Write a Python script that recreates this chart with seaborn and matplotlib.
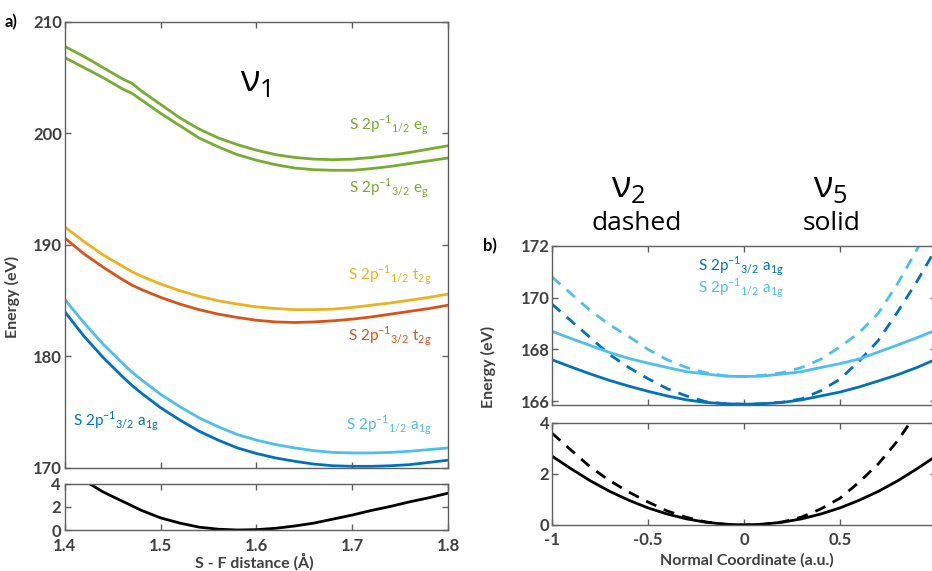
import numpy as np
import pandas as pd
import seaborn as sns
import matplotlib.pyplot as plt

# %%
# panel a: S-F distance scan (nu1)
dist = [1.40, 1.42, 1.44, 1.46, 1.47, 1.48, 1.50, 1.52, 1.54, 1.56, 1.58,
        1.60, 1.62, 1.64, 1.66, 1.68, 1.70, 1.72, 1.74, 1.76, 1.78, 1.80]
eg_12 = [207.8, 206.9, 205.9, 204.9, 204.5, 203.8, 202.6, 201.4, 200.4, 199.6, 199.0,
         198.5, 198.1, 197.85, 197.7, 197.65, 197.7, 197.85, 198.05, 198.3, 198.6, 198.9]
eg_32 = [206.8, 205.9, 205.0, 204.0, 203.6, 203.0, 201.8, 200.7, 199.6, 198.8, 198.1,
         197.6, 197.2, 196.9, 196.75, 196.7, 196.7, 196.85, 197.05, 197.3, 197.55, 197.8]
t2g_12 = [191.6, 190.3, 189.1, 188.1, 187.6, 187.2, 186.5, 185.9, 185.4, 185.0, 184.7,
          184.45, 184.3, 184.2, 184.2, 184.25, 184.4, 184.6, 184.8, 185.05, 185.3, 185.6]
t2g_32 = [190.6, 189.2, 188.0, 186.9, 186.4, 186.0, 185.3, 184.7, 184.2, 183.8, 183.5,
          183.25, 183.1, 183.05, 183.1, 183.2, 183.35, 183.55, 183.8, 184.05, 184.3, 184.6]
a1g_12 = [185.1, 183.0, 181.1, 179.4, 178.6, 177.9, 176.6, 175.5, 174.5, 173.7, 173.0,
          172.5, 172.1, 171.8, 171.55, 171.4, 171.35, 171.35, 171.4, 171.5, 171.65, 171.8]
a1g_32 = [184.0, 181.8, 179.9, 178.2, 177.4, 176.7, 175.4, 174.3, 173.3, 172.5, 171.8,
          171.3, 170.9, 170.6, 170.35, 170.2, 170.15, 170.15, 170.2, 170.3, 170.5, 170.7]
ground_a = [5.6, 4.3, 3.3, 2.5, 2.1, 1.7, 1.05, 0.6, 0.25, 0.07, 0.0,
            0.03, 0.15, 0.35, 0.6, 0.95, 1.3, 1.7, 2.05, 2.45, 2.8, 3.2]

# panel b: normal coordinate scans (nu2 dashed, nu5 solid)
coord = [-1.0, -0.9, -0.8, -0.7, -0.6, -0.5, -0.4, -0.3, -0.2, -0.1, 0.0,
         0.1, 0.2, 0.3, 0.4, 0.5, 0.6, 0.7, 0.8, 0.9, 1.0]
nu5_12 = [168.7, 168.42, 168.15, 167.88, 167.65, 167.47, 167.3, 167.14, 167.05, 166.97, 166.95,
          166.97, 167.05, 167.14, 167.3, 167.45, 167.63, 167.9, 168.17, 168.45, 168.75]
nu5_32 = [167.6, 167.32, 167.05, 166.8, 166.58, 166.38, 166.2, 166.05, 165.95, 165.9, 165.88,
          165.9, 165.95, 166.05, 166.2, 166.35, 166.55, 166.78, 167.02, 167.3, 167.62]
nu2_12 = [170.8, 170.15, 169.5, 168.95, 168.5, 168.0, 167.6, 167.3, 167.1, 166.98, 166.95,
          167.0, 167.1, 167.3, 167.62, 168.1, 168.65, 169.4, 170.55, 171.85, 173.4]
nu2_32 = [169.75, 169.1, 168.45, 167.8, 167.3, 166.87, 166.48, 166.2, 165.98, 165.9, 165.88,
          165.9, 165.96, 166.09, 166.4, 166.85, 167.55, 168.35, 169.45, 170.62, 171.9]
nu5_gs = [2.7, 2.2, 1.73, 1.32, 0.97, 0.67, 0.43, 0.24, 0.11, 0.03, 0.0,
          0.03, 0.11, 0.24, 0.43, 0.67, 0.97, 1.32, 1.73, 2.2, 2.7]
nu2_gs = [3.6, 2.93, 2.27, 1.74, 1.29, 0.9, 0.55, 0.3, 0.12, 0.03, 0.0,
          0.03, 0.12, 0.31, 0.63, 1.05, 1.68, 2.4, 3.3, 4.4, 5.7]

GREEN = "#77AC30"
YELLOW = "#EDB120"
ORANGE = "#D95319"
LBLUE = "#4DBEEE"
DBLUE = "#0072BD"
GREY = "#404040"

# %%
sns.set_style("ticks")
plt.rcParams["font.family"] = ["Lato", "DejaVu Sans"]
plt.rcParams["axes.unicode_minus"] = False
plt.rcParams["xtick.direction"] = "in"
plt.rcParams["ytick.direction"] = "in"
plt.rcParams["xtick.top"] = True
plt.rcParams["ytick.right"] = True

fig = plt.figure(figsize=(9.32, 5.71), dpi=100)
ax1 = fig.add_axes([0.0697, 0.1804, 0.411, 0.7811])
ax2 = fig.add_axes([0.0697, 0.0718, 0.411, 0.0806])
ax3 = fig.add_axes([0.5923, 0.2907, 0.412, 0.2785])
ax4 = fig.add_axes([0.5923, 0.0806, 0.412, 0.1786])

df_a = pd.DataFrame({"x": dist, "eg12": eg_12, "eg32": eg_32, "t12": t2g_12,
                     "t32": t2g_32, "a12": a1g_12, "a32": a1g_32, "gs": ground_a})
lw = 2.0
for col, c in [("eg12", GREEN), ("eg32", GREEN), ("t12", YELLOW), ("t32", ORANGE),
               ("a12", LBLUE), ("a32", DBLUE)]:
    sns.lineplot(data=df_a, x="x", y=col, color=c, lw=lw, ax=ax1)
sns.lineplot(data=df_a, x="x", y="gs", color="black", lw=lw, ax=ax2)

df_b = pd.DataFrame({"q": coord, "n5_12": nu5_12, "n5_32": nu5_32, "n2_12": nu2_12,
                     "n2_32": nu2_32, "n5g": nu5_gs, "n2g": nu2_gs})
sns.lineplot(data=df_b, x="q", y="n2_12", color=LBLUE, lw=lw, ax=ax3, linestyle=(0, (4, 3)))
sns.lineplot(data=df_b, x="q", y="n2_32", color=DBLUE, lw=lw, ax=ax3, linestyle=(0, (4, 3)))
sns.lineplot(data=df_b, x="q", y="n5_12", color=LBLUE, lw=lw, ax=ax3)
sns.lineplot(data=df_b, x="q", y="n5_32", color=DBLUE, lw=lw, ax=ax3)
sns.lineplot(data=df_b, x="q", y="n2g", color="black", lw=lw, ax=ax4, linestyle=(0, (4, 3)))
sns.lineplot(data=df_b, x="q", y="n5g", color="black", lw=lw, ax=ax4)

# axes cosmetics
for ax in [ax1, ax2, ax3, ax4]:
    ax.set_xlabel("")
    ax.set_ylabel("")
    for s in ax.spines.values():
        s.set_color("#606060")
        s.set_linewidth(1.0)
    ax.tick_params(length=4, width=1, color="#606060", labelsize=12,
                   labelcolor=GREY, pad=2)

ax1.set_xlim(1.4, 1.8)
ax1.set_ylim(170, 210)
ax1.set_yticks([170, 180, 190, 200, 210])
ax1.set_xticks([1.4, 1.5, 1.6, 1.7, 1.8])
ax1.tick_params(labelbottom=False)
ax2.set_xlim(1.4, 1.8)
ax2.set_ylim(0, 4)
ax2.set_yticks([0, 2, 4])
ax2.set_xticks([1.4, 1.5, 1.6, 1.7, 1.8])
ax2.set_xticklabels(["1.4", "1.5", "1.6", "1.7", "1.8"])
ax2.tick_params(axis="x", pad=6)
ax2.tick_params(axis="y", pad=3)

ax3.set_xlim(-1, 1)
ax3.set_ylim(165.85, 172)
ax3.set_yticks([166, 168, 170, 172])
ax3.set_xticks([-1, -0.5, 0, 0.5, 1])
ax3.tick_params(labelbottom=False)
ax4.set_xlim(-1, 1)
ax4.set_ylim(0, 4)
ax4.set_yticks([0, 2, 4])
ax4.set_xticks([-1, -0.5, 0, 0.5, 1])
ax4.set_xticklabels(["-1", "-0.5", "0", "0.5", ""])
ax4.tick_params(axis="x", pad=5)

for ax in [ax1, ax2, ax3, ax4]:
    for lab in ax.get_xticklabels() + ax.get_yticklabels():
        lab.set_fontweight("bold")

# state labels
def lbl(j, sym, sub):
    return r"S 2p$^{\mathregular{-1}}$$_{\mathregular{%s}}$ %s$_{\mathregular{%s}}$" % (j, sym, sub)

fs = 11
ax1.text(1.78, 200.7, lbl("1/2", "e", "g"), color=GREEN, fontsize=fs, ha="right", va="center")
ax1.text(1.78, 195.1, lbl("3/2", "e", "g"), color=GREEN, fontsize=fs, ha="right", va="center")
ax1.text(1.783, 187.3, lbl("1/2", "t", "2g"), color=YELLOW, fontsize=fs, ha="right", va="center")
ax1.text(1.783, 181.8, lbl("3/2", "t", "2g"), color=ORANGE, fontsize=fs, ha="right", va="center")
ax1.text(1.408, 174.2, lbl("3/2", "a", "1g"), color=DBLUE, fontsize=fs, ha="left", va="center")
ax1.text(1.783, 173.8, lbl("1/2", "a", "1g"), color=LBLUE, fontsize=fs, ha="right", va="center")
ax3.text(-0.24, 171.2, lbl("3/2", "a", "1g"), color=DBLUE, fontsize=fs, ha="left", va="center")
ax3.text(-0.24, 170.35, lbl("1/2", "a", "1g"), color=LBLUE, fontsize=fs, ha="left", va="center")

# axis labels and panel tags
lab_kw = dict(color=GREY, fontsize=11.5, fontweight="bold")
fig.text(0.273, 0.0, "S - F distance (Å)", ha="center", va="bottom", **lab_kw)
fig.text(0.801, 0.006, "Normal Coordinate (a.u.)", ha="center", va="bottom", **lab_kw)
fig.text(0.013, 0.48, "Energy (eV)", rotation=90, ha="center", va="center", **lab_kw)
fig.text(0.524, 0.357, "Energy (eV)", rotation=90, ha="center", va="center", **lab_kw)
fig.text(0.005, 0.9615, "a)", ha="left", va="center", color="black", fontsize=12, fontweight="bold")
fig.text(0.518, 0.5692, "b)", ha="left", va="center", color="black", fontsize=12, fontweight="bold")

# vibrational mode labels
nu_kw = dict(fontsize=26, color="black", family=["Open Sans", "DejaVu Sans"])
fig.text(0.258, 0.84, r"ν$_{\mathregular{1}}$", ha="left", va="baseline", **nu_kw)
fig.text(0.656, 0.655, r"ν$_{\mathregular{2}}$", ha="left", va="baseline", **nu_kw)
fig.text(0.872, 0.655, r"ν$_{\mathregular{5}}$", ha="left", va="baseline", **nu_kw)
fig.text(0.683, 0.597, "dashed", ha="center", va="baseline", fontsize=19,
         color="black", family=["Open Sans", "DejaVu Sans"])
fig.text(0.892, 0.597, "solid", ha="center", va="baseline", fontsize=19,
         color="black", family=["Open Sans", "DejaVu Sans"])

plt.savefig("out.png", dpi=100)
